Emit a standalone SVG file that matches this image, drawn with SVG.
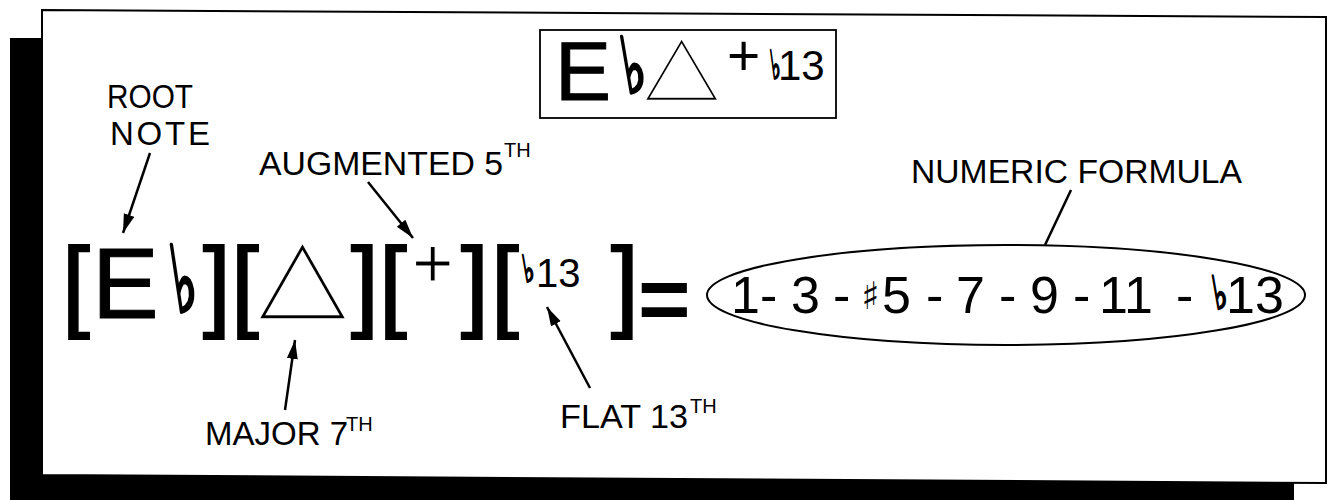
<svg xmlns="http://www.w3.org/2000/svg" width="1328" height="500" viewBox="0 0 1328 500">
<style>
.lbl{font-family:"Liberation Sans",Arial,sans-serif;font-size:33px;fill:#000}
.sup{font-family:"Liberation Sans",Arial,sans-serif;font-size:20px;fill:#000}
.big{font-family:"Liberation Sans",Arial,sans-serif;fill:#000}
.brk{font-family:"Liberation Sans",Arial,sans-serif;font-size:100px;fill:#000;stroke:#000;stroke-width:2}
.mus{font-family:"DejaVu Sans",sans-serif;fill:#000}
.tri{font-family:"DejaVu Sans",sans-serif;fill:#000;stroke:#fff;stroke-width:2.5}
.acc{font-family:"DejaVu Sans",sans-serif;fill:#000;stroke:#000;text-anchor:middle;stroke-linejoin:round}
.conn{stroke:#000;stroke-width:2.5;fill:none}
</style>
<defs>
<marker id="ah" markerUnits="userSpaceOnUse" markerWidth="22" markerHeight="14" refX="19" refY="5.5" orient="auto">
<path d="M0,0 L19,5.5 L0,11 z" fill="#000"/>
</marker>
</defs>
<rect width="1328" height="500" fill="#fff"/>
<g id="frame">
<polygon points="10,38 42,38 42,475 1294,482 1294,500 10,500" fill="#000"/>
<polygon points="42,10 1326,17 1326,483 42,475" fill="#fff" stroke="#000" stroke-width="2"/>
</g>
<g id="title-symbol">
<rect x="540" y="30" width="296" height="88" fill="none" stroke="#000" stroke-width="1.8"/>
<text class="big" x="555" y="100" font-size="84" stroke="#000" stroke-width="1">E</text>
<text class="acc" font-size="64" stroke-width="2.6" transform="translate(637.8,92.5) scale(0.77,1.21) skewX(15)">♭</text>
<text class="tri" font-size="80" stroke-width="1.6" transform="translate(643.5,91) scale(1.24,1.05)">△</text>
<text class="big" x="727" y="75" font-size="57">+</text>
<text class="acc" font-size="32" stroke-width="1.6" transform="translate(777.3,78.6) scale(0.62,1.25) skewX(15)">♭</text>
<text class="big" x="778" y="80" font-size="42">13</text>
</g>
<g id="chord-root">
<text class="brk" x="62" y="318">[</text>
<text class="big" x="92" y="318" font-size="100" stroke="#000" stroke-width="1">E</text>
<text class="acc" font-size="77" stroke-width="3" transform="translate(188.5,312) scale(0.67,1.2) skewX(15)">♭</text>
<text class="brk" x="203" y="318">]</text>
</g>
<g id="chord-quality">
<text class="brk" x="231" y="318">[</text>
<text class="tri" font-size="100" transform="translate(257.5,306.5) scale(1.17,1.02)">△</text>
<text class="brk" x="351" y="318">]</text>
</g>
<g id="chord-fifth">
<text class="brk" x="379" y="318">[</text>
<text class="big" x="412" y="287" font-size="71" stroke="#fff" stroke-width="1.2">+</text>
<text class="brk" x="461" y="318">]</text>
</g>
<g id="chord-extension">
<text class="brk" x="491" y="318">[</text>
<text class="acc" font-size="30" stroke-width="1.6" transform="translate(530.5,282) scale(0.78,1.24) skewX(15)">♭</text>
<text class="big" x="536" y="287" font-size="40">13</text>
<text class="brk" x="611" y="318">]</text>
</g>
<g id="equals">
<text class="big" x="638" y="330" font-size="90" font-weight="bold">=</text>
</g>
<g id="numeric-formula">
<ellipse cx="1006" cy="295" rx="299" ry="50" fill="none" stroke="#000" stroke-width="2"/>
<text class="big" y="313" font-size="52"><tspan x="731">1-</tspan><tspan x="791">3</tspan><tspan x="833">-</tspan><tspan x="861" class="mus" font-size="38" y="309">♯</tspan><tspan x="882" y="313">5</tspan><tspan x="926">-</tspan><tspan x="956">7</tspan><tspan x="999">-</tspan><tspan x="1030">9</tspan><tspan x="1073">-</tspan><tspan x="1099">11</tspan><tspan x="1176">-</tspan></text>
<text class="acc" font-size="37" stroke-width="1.8" transform="translate(1222.5,309) scale(0.8,1.24) skewX(15)">♭</text>
<text class="big" x="1226" y="313" font-size="52">13</text>
</g>
<g id="label-root-note">
<text class="lbl" x="107" y="108" textLength="86" lengthAdjust="spacingAndGlyphs">ROOT</text>
<text class="lbl" x="110" y="145" textLength="100">NOTE</text>
</g>
<g id="label-augmented-5th">
<text class="lbl" x="259" y="175" textLength="244" lengthAdjust="spacingAndGlyphs">AUGMENTED 5</text>
<text class="sup" x="504" y="157">TH</text>
</g>
<g id="label-numeric-formula">
<text class="lbl" x="911" y="183" textLength="331" lengthAdjust="spacingAndGlyphs">NUMERIC FORMULA</text>
</g>
<g id="label-major-7th">
<text class="lbl" x="205" y="445" font-size="32">MAJOR 7</text>
<text class="sup" x="346" y="431">TH</text>
</g>
<g id="label-flat-13th">
<text class="lbl" x="560" y="428" textLength="128" lengthAdjust="spacingAndGlyphs">FLAT 13</text>
<text class="sup" x="690" y="413">TH</text>
</g>
<g id="connectors">
<line class="conn" x1="150" y1="153" x2="123" y2="233" marker-end="url(#ah)"/>
<line class="conn" x1="368" y1="182" x2="413" y2="238" marker-end="url(#ah)"/>
<line class="conn" x1="285" y1="410" x2="295" y2="340" marker-end="url(#ah)"/>
<line class="conn" x1="590" y1="388" x2="547" y2="307" marker-end="url(#ah)"/>
<line class="conn" x1="1071" y1="190" x2="1045" y2="245"/>
</g>
</svg>
